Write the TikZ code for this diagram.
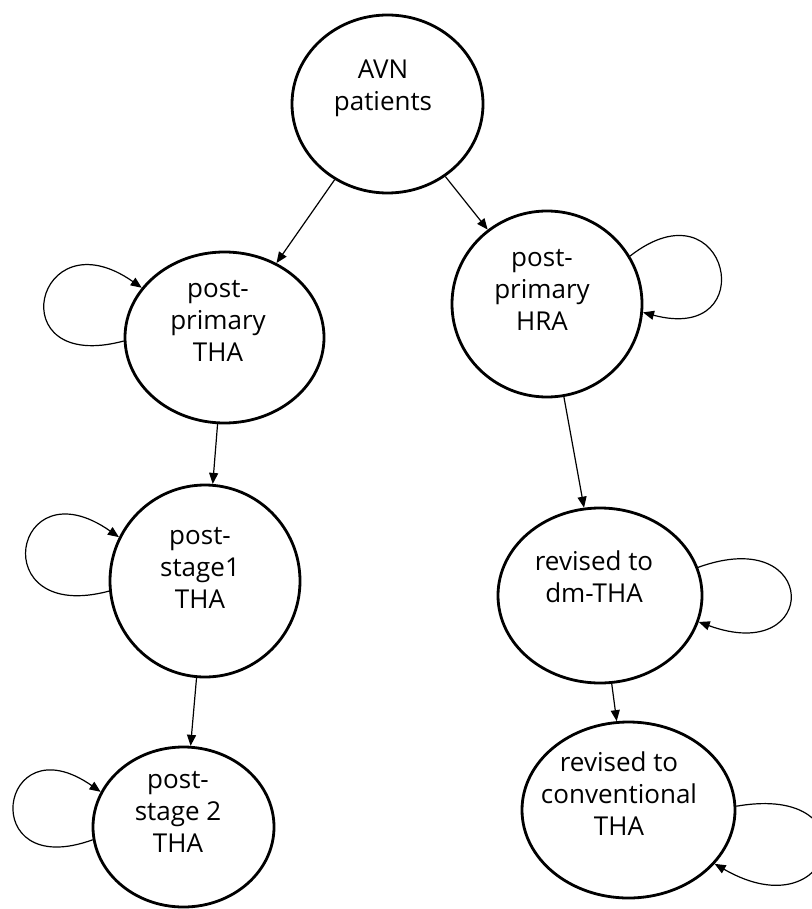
\documentclass[tikz,border=0pt]{standalone}
\usepackage{fontspec}
\setmainfont{Open Sans}
\usetikzlibrary{shapes.geometric,arrows.meta}
\begin{document}
\begin{tikzpicture}[x=1pt,y=-1pt,
  stnode/.style args={#1/#2}{draw, ellipse, minimum width=#1pt, minimum height=#2pt, inner sep=0pt, line width=2.8pt},
  lbl/.style={align=center, inner sep=0pt, font=\fontsize{26}{32}\selectfont},
  conn/.style={line width=1.2pt, -{Triangle[length=11pt,width=9pt]}}]
\useasboundingbox (0,0) rectangle (811,909);
% states
\node[stnode=191/178] (avn) at (387.5,104) {};
\node[stnode=199/171] (tha) at (224.5,337.5) {};
\node[stnode=190/186] (hra) at (547,304) {};
\node[stnode=190/192] (st1) at (205,581) {};
\node[stnode=204/175] (dm) at (600,595.5) {};
\node[stnode=181/160] (st2) at (183.5,827) {};
\node[stnode=213/176] (conv) at (628.5,810) {};
% labels
\node[lbl] (tavn) at (383,88) {AVN\\patients};
\node[lbl] (ttha) at (218,321) {post-\\primary\\THA};
\node[lbl] (thra) at (542,290) {post-\\primary\\HRA};
\node[lbl] (tst1) at (200,567.5) {post-\\stage1\\THA};
\node[lbl] (tdm) at (594,576.5) {revised to\\dm-THA};
\node[lbl] (tst2) at (178,812) {post-\\stage 2\\THA};
\node[lbl] (tconv) at (619,794) {revised to\\conventional\\THA};
% transitions
\draw[conn] (avn) -- (tha);
\draw[conn] (avn) -- (hra);
\draw[conn] (tha) -- (st1);
\draw[conn] (st1) -- (st2);
\draw[conn] (hra) -- (dm);
\draw[conn] (dm) -- (conv);
% self loops
\draw[conn] (tha.182) to[out=195,in=145,distance=130pt] (tha.149);
\draw[conn] (st1.186) to[out=195,in=145,distance=130pt] (st1.153);
\draw[conn] (st2.188) to[out=200,in=145,distance=125pt] (st2.157);
\draw[conn] (hra.30) to[out=38,in=345,distance=125pt] (hra.-5);
\draw[conn] (dm.16) to[out=20,in=340,distance=130pt] (dm.-15);
\draw[conn] (conv.2) to[out=10,in=330,distance=140pt] (conv.-32);
\end{tikzpicture}
\end{document}
